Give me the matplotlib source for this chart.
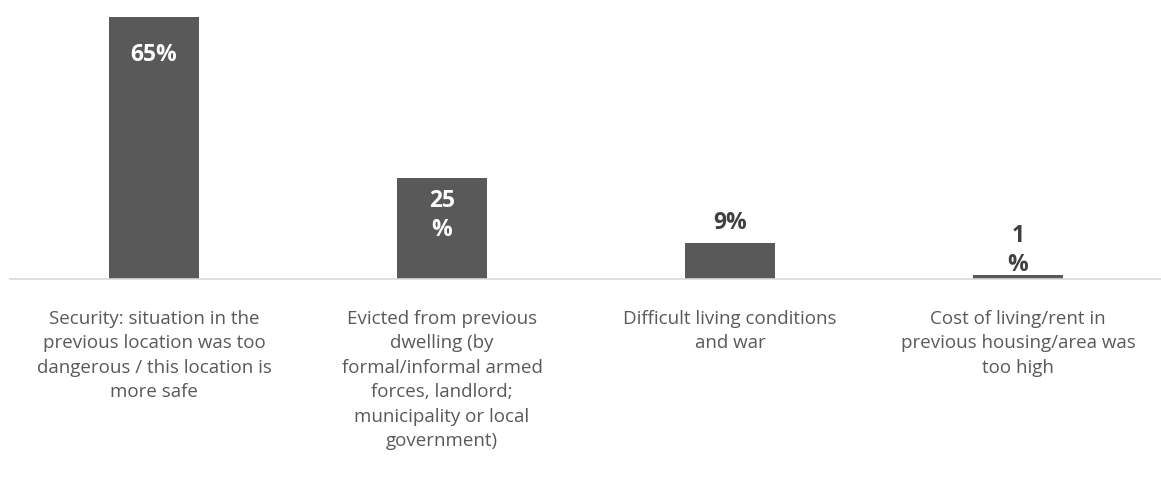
import matplotlib.pyplot as plt

# reasons for moving, share of respondents (%)
categories = [
    "Security: situation in the\nprevious location was too\ndangerous / this location is\nmore safe",
    "Evicted from previous\ndwelling (by\nformal/informal armed\nforces, landlord;\nmunicipality or local\ngovernment)",
    "Difficult living conditions\nand war",
    "Cost of living/rent in\nprevious housing/area was\ntoo high",
]
values = [65, 25, 9, 1]
value_labels = ["65%", "25\n%", "9%", "1\n%"]
label_inside = [True, True, False, False]

plt.rcParams['font.family'] = ['Open Sans', 'DejaVu Sans']

fig = plt.figure(figsize=(11.61, 4.86), dpi=100)
ax = fig.add_axes([10 / 1161, (486 - 279) / 486, 1152 / 1161, (279 - 17) / 486])

x = range(len(values))
bars = ax.bar(x, values, width=0.31, color="#595959")

ax.set_xlim(-0.5, len(values) - 0.5)
ax.set_ylim(0, 65)

for rect, val, lab, inside in zip(bars, values, value_labels, label_inside):
    cx = rect.get_x() + rect.get_width() / 2
    if inside:
        ax.annotate(lab, (cx, val), xytext=(0, -27), textcoords="offset points",
                    ha="center", va="center", color="white", fontsize=16.5,
                    fontweight="bold", linespacing=1.3)
    else:
        # wrapped labels sit a little higher above short bars
        dy = 14.5 + 3 * lab.count("\n")
        ax.annotate(lab, (cx, val), xytext=(0, dy), textcoords="offset points",
                    ha="center", va="center", color="#404040", fontsize=16.5,
                    fontweight="bold", linespacing=1.3)

ax.set_xticks(list(x))
ax.set_xticklabels(categories, fontsize=13.5, color="#595959", linespacing=1.47)
ax.tick_params(axis="x", length=0, pad=22)
ax.set_yticks([])

for side in ["top", "left", "right"]:
    ax.spines[side].set_visible(False)
ax.spines["bottom"].set_color("#d9d9d9")
ax.spines["bottom"].set_linewidth(1.2)

fig.savefig("out.png", dpi=100)
